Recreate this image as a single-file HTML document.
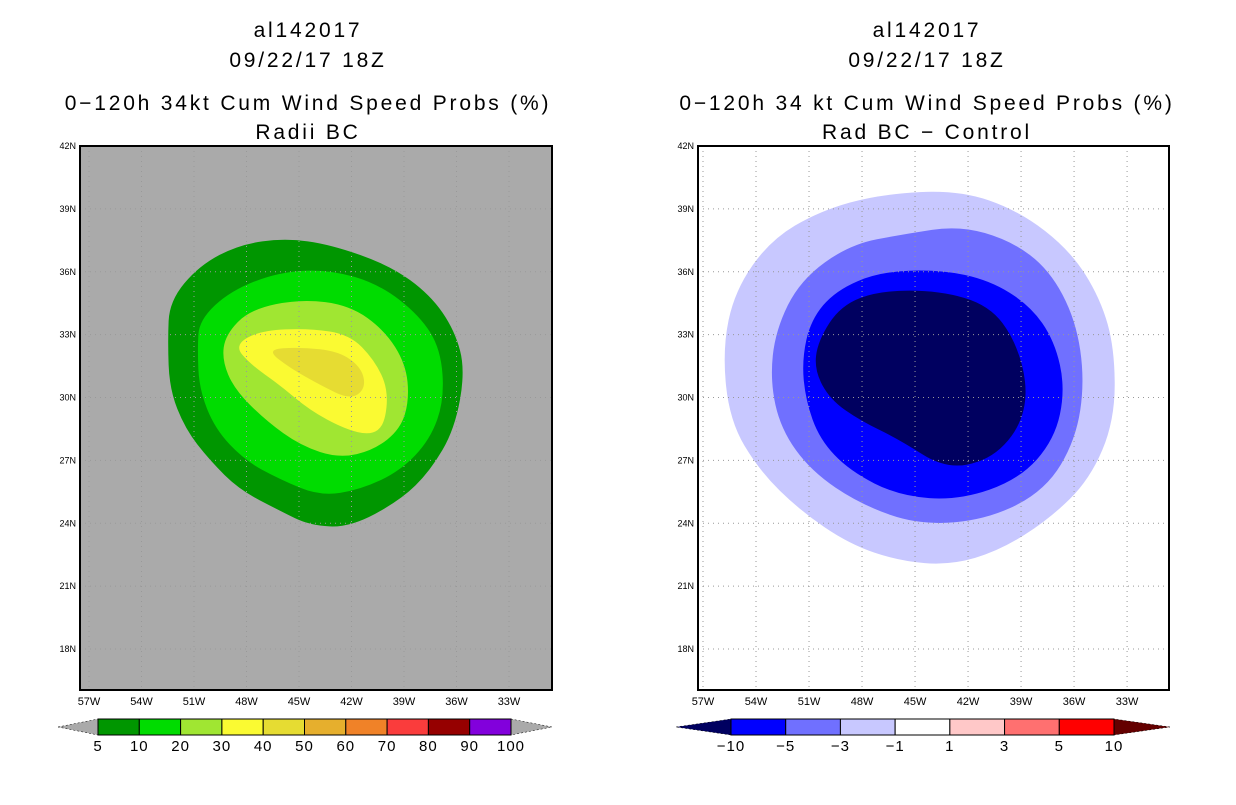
<!DOCTYPE html>
<html><head><meta charset="utf-8"><style>
body{margin:0;background:#fff;width:1236px;height:800px;overflow:hidden;font-family:"Liberation Sans",sans-serif}
svg text{font-family:"Liberation Sans",sans-serif}
</style></head><body>
<svg id="s" width="1236" height="800"></svg>
<script>
const lonTicks=[57,54,51,48,45,42,39,36,33];
const latTicks=[42,39,36,33,30,27,24,21,18];
const leftLevels=[5,10,20,30,40];
const leftColors=['#009600','#00dc00','#a0e632','#fafa32','#e6dc32'];
const leftC5=[[52.4,34.6],[50.7,36.3],[48.4,37.3],[45.8,37.6],[43.2,37.3],[39.8,36.3],[37.5,34.9],[36.1,33.2],[35.5,31.3],[36.1,28.5],[37.5,26.5],[39.2,25.1],[42.1,23.8],[44.4,23.9],[46.1,24.6],[48.4,25.6],[50.1,27.0],[51.5,28.5],[52.4,30.4],[52.5,32.7]];
const leftC10=[[50.7,33.7],[48.9,35.1],[46.1,36.0],[43.2,36.1],[40.4,35.4],[38.1,33.9],[36.9,32.3],[36.7,29.9],[37.5,28.0],[39.2,26.5],[41.5,25.6],[43.8,25.3],[46.1,26.1],[48.1,27.0],[49.8,28.5],[50.7,30.4],[50.8,32.3]];
const leftC20=[[49.2,33.0],[47.8,34.2],[44.9,34.7],[42.1,34.4],[40.1,33.2],[38.9,31.6],[38.7,29.9],[39.2,28.5],[40.7,27.5],[42.7,27.1],[44.9,27.7],[46.9,28.9],[48.7,30.4],[49.4,31.8]];
const leftC30=[[48.7,32.5],[47.2,33.2],[44.4,33.3],[42.1,33.0],[40.7,31.8],[39.9,30.4],[40.1,28.7],[40.9,28.2],[42.4,28.5],[44.4,29.4],[46.1,30.6],[47.8,31.6]];
const leftC40=[[46.9,32.3],[44.9,32.4],[42.7,32.2],[41.4,31.4],[41.2,30.4],[42.1,29.9],[43.8,30.6],[45.5,31.4]];
const rightColors=['#c8c8ff','#7070ff','#0000ff','#000060'];
const rightC1=[[55.2,35.1],[53.2,37.5],[50.4,38.9],[47.0,39.7],[42.5,39.9],[39.1,38.9],[36.2,37.0],[34.5,34.7],[33.7,32.3],[33.7,28.9],[35.1,26.1],[37.4,24.2],[40.2,22.7],[43.0,22.0],[45.9,22.2],[48.7,23.0],[51.5,24.6],[53.8,26.5],[55.5,28.9],[55.9,32.3]];
const rightC3=[[52.9,33.2],[51.5,35.6],[48.7,37.3],[45.6,37.8],[42.5,38.2],[39.6,37.5],[37.4,36.1],[35.9,33.7],[35.4,30.8],[35.9,28.0],[37.6,25.6],[40.8,24.2],[44.7,23.9],[48.1,24.9],[50.9,26.5],[52.6,28.5],[53.2,30.8]];
const rightC5=[[50.9,33.7],[49.5,35.1],[47.0,36.0],[43.6,36.1],[40.8,35.6],[38.5,34.4],[37.1,32.7],[36.5,30.4],[37.1,28.0],[39.1,26.1],[42.5,25.1],[45.9,25.3],[48.7,26.5],[50.4,28.0],[51.2,29.9],[51.4,31.8]];
const rightC10=[[50.5,32.7],[49.2,34.4],[47.0,35.1],[43.6,35.1],[40.8,34.4],[39.3,32.7],[38.6,30.4],[39.1,28.5],[40.8,27.0],[43.3,26.6],[45.9,28.0],[48.1,28.9],[49.8,29.9],[50.7,31.3]];
const leftBarLabels=['5','10','20','30','40','50','60','70','80','90','100'];
const leftBarColors=['#009600','#00dc00','#a0e632','#fafa32','#e6dc32','#e6af2d','#f08228','#fa3c3c','#960000','#8200dc'];
const rightBarLabels=['\u221210','\u22125','\u22123','\u22121','1','3','5','10'];
const rightBarColors=['#0000ff','#7070ff','#c8c8ff','#ffffff','#ffc8c8','#ff7070','#ff0000'];

const NS='http://www.w3.org/2000/svg';
const svg=document.getElementById('s');
function mk(t,a,p){const e=document.createElementNS(NS,t);for(const k in a)e.setAttribute(k,a[k]);(p||svg).appendChild(e);return e;}
function panel(x0,x1,lon57x,pxPerDeg){
  return {x:lon=>lon57x+(57-lon)*pxPerDeg,y:lat=>146+(42-lat)*20.96,x0:x0,x1:x1};
}
function smoothPath(P,pts){
  const q=pts.map(p=>[P.x(p[0]),P.y(p[1])]);const n=q.length;
  let d='';
  for(let i=0;i<n;i++){const a=q[i],b=q[(i+1)%n];const m=[(a[0]+b[0])/2,(a[1]+b[1])/2];
    if(i===0)d+='M'+((q[n-1][0]+a[0])/2)+','+((q[n-1][1]+a[1])/2);
    d+=' Q'+a[0]+','+a[1]+' '+m[0]+','+m[1];}
  return d+'Z';
}
function drawPanel(P,bg,contours,colors,name,cx,titles){
  const g=mk('g',{});
  
  
  const r=mk('rect',{x:P.x0,y:146,width:P.x1-P.x0,height:544,fill:bg},g);
  
  contours.forEach((c,i)=>{const p=mk('path',{d:smoothPath(P,c),fill:colors[i]},g);
    
    });
  lonTicks.forEach(l=>{const x=P.x(l);
    const ln=mk('line',{x1:x,x2:x,y1:146,y2:690,stroke:'#999',
      'stroke-dasharray':'1,4'},g);
    
    const t=mk('text',{x:x,y:705,'font-size':11,'text-anchor':'middle'},g);t.textContent=l+'W';
    });
  latTicks.forEach(l=>{const y=P.y(l);
    const ln=mk('line',{x1:P.x0,x2:P.x1,y1:y,y2:y,stroke:'#999','stroke-dasharray':'1,4'},g);
    
    const t=mk('text',{x:P.x0-4,y:y+3,'font-size':9,'text-anchor':'end'},g);t.textContent=l+'N';
    });
  const f=mk('rect',{x:P.x0,y:146,width:P.x1-P.x0,height:544,fill:'none',stroke:'#000','stroke-width':2},g);
  
  const ys=[37,67,110,139];
  titles.forEach((s,i)=>{const t=mk('text',{x:cx,y:ys[i],'font-size':21,'text-anchor':'middle','letter-spacing':'2.8px'},g);t.textContent=s;
    });
}
function drawBar(x0,x1,tl,tr,colors,labels,leftTri,rightTri,name){
  const g=mk('g',{});
  
  
  const w=(x1-x0)/colors.length;
  const a=mk('polygon',{points:`${tl},727 ${x0},719 ${x0},735`,fill:leftTri,stroke:'#000','stroke-dasharray':'2,2','stroke-width':0.5},g);
  
  const b=mk('polygon',{points:`${tr},727 ${x1},719 ${x1},735`,fill:rightTri,stroke:'#000','stroke-dasharray':'2,2','stroke-width':0.5},g);
  
  colors.forEach((c,i)=>{const r=mk('rect',{x:x0+i*w,y:719,width:w,height:16,fill:c,stroke:'#000','stroke-width':1},g);
    });
  labels.forEach((l,i)=>{const t=mk('text',{x:x0+i*w,y:751,'font-size':15,'text-anchor':'middle','letter-spacing':'1px'},g);t.textContent=l;
    });
}
const PL=panel(80,552,89,17.5);
const PR=panel(698,1169,703,17.67);
drawPanel(PL,'#aaaaaa',[leftC5,leftC10,leftC20,leftC30,leftC40],leftColors,'left-map',308,
 ['al142017','09/22/17 18Z','0\u2212120h 34kt Cum Wind Speed Probs (%)','Radii BC']);
drawPanel(PR,'#ffffff',[rightC1,rightC3,rightC5,rightC10],rightColors,'right-map',927,
 ['al142017','09/22/17 18Z','0\u2212120h 34 kt Cum Wind Speed Probs (%)','Rad BC \u2212 Control']);
drawBar(98,511,58,552,leftBarColors,leftBarLabels,'#aaaaaa','#aaaaaa','left-colorbar');
drawBar(731,1114,676,1170,rightBarColors,rightBarLabels,'#000060','#640000','right-colorbar');
</script>
</body></html>
